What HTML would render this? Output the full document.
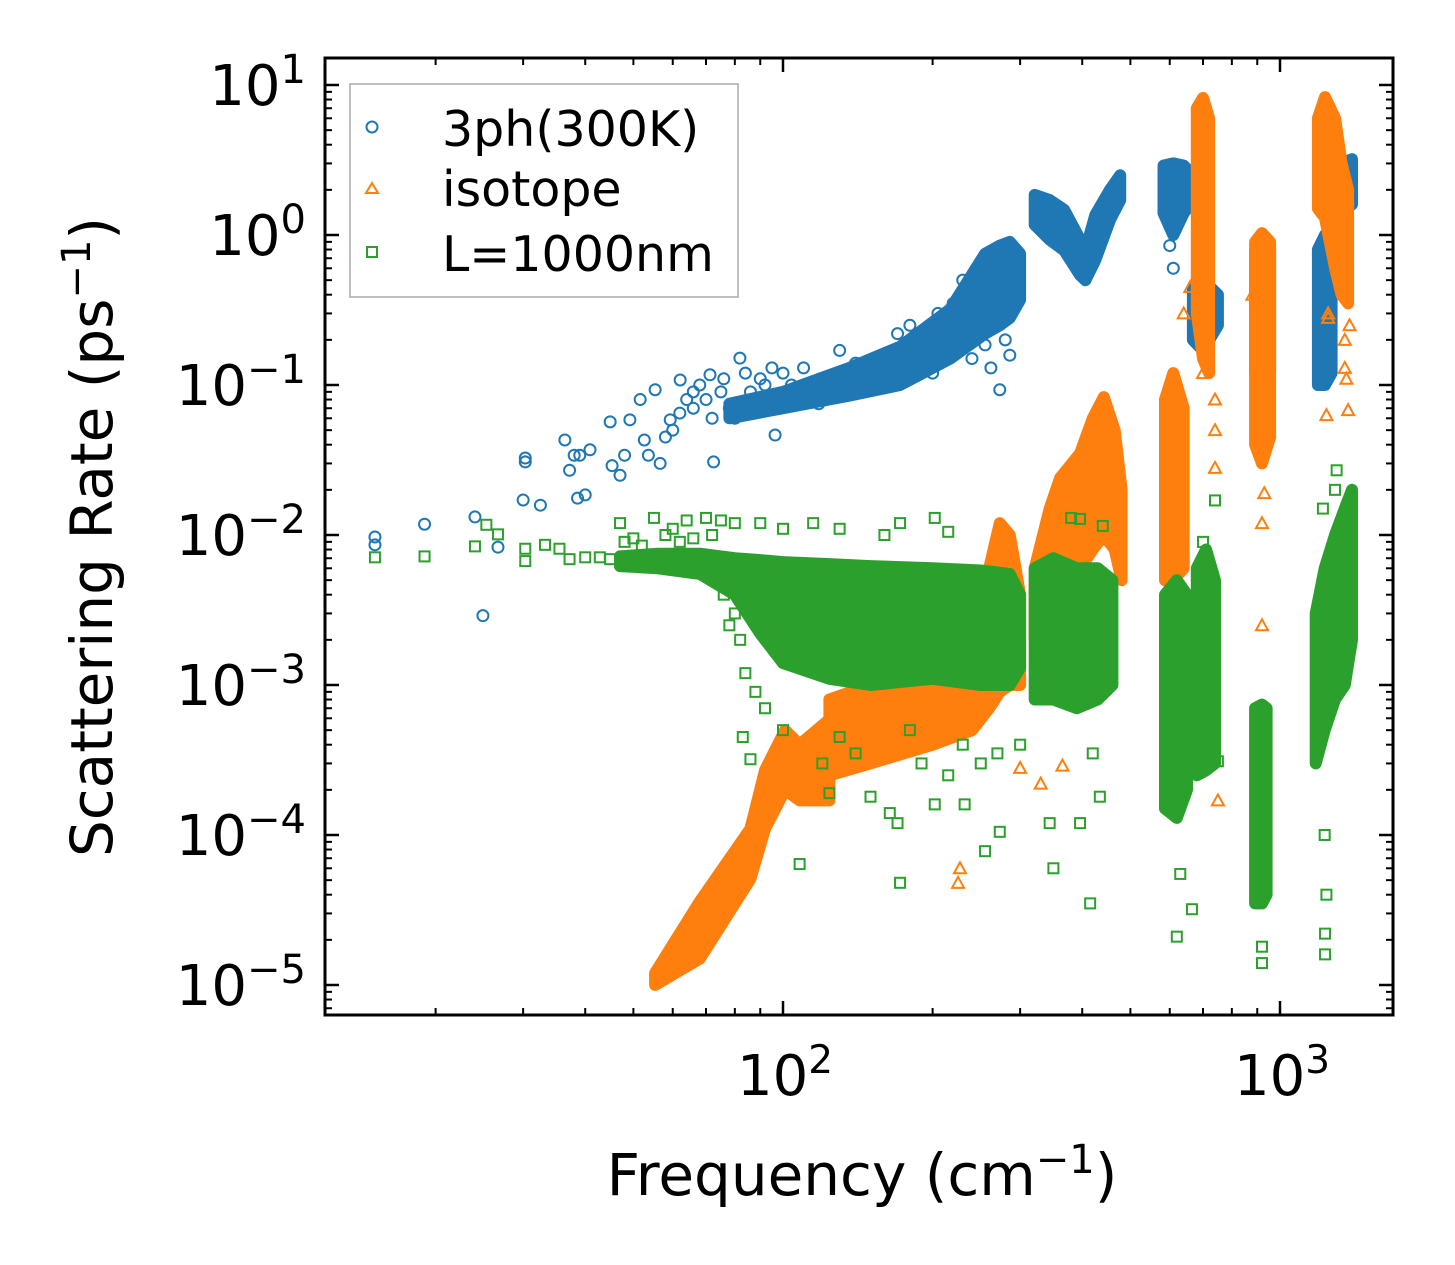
<!DOCTYPE html>
<html><head><meta charset="utf-8"><style>
html,body{margin:0;padding:0;background:#fff}
svg{display:block;font-family:"DejaVu Sans","Liberation Sans",sans-serif}
</style></head><body>
<svg id="chart" width="1455" height="1265" viewBox="0 0 1455 1265" xmlns="http://www.w3.org/2000/svg">
<rect width="1455" height="1265" fill="#fff"/>
<g id="marks"></g>
<g id="axes"></g>
<g>
<rect x="350" y="84" width="388" height="213" fill="#fff" fill-opacity="0.85" stroke="#aaa" stroke-width="1.5"/>
<circle cx="372" cy="127" r="5.5" fill="none" stroke="#1f77b4" stroke-width="2"/>
<text x="442" y="146" font-size="49">3ph(300K)</text>
<polygon points="372,183 378,193 366,193" fill="none" stroke="#ff7f0e" stroke-width="2"/>
<text x="442" y="206" font-size="49">isotope</text>
<rect x="367" y="247" width="10" height="10" fill="none" stroke="#2ca02c" stroke-width="2"/>
<text x="442" y="271" font-size="49">L=1000nm</text>
</g>
<text x="862" y="1195" font-size="58" text-anchor="middle">Frequency (cm<tspan dy="-22" font-size="40">−1</tspan><tspan dy="22">)</tspan></text>
<text transform="translate(112,537) rotate(-90)" font-size="58" text-anchor="middle">Scattering Rate (ps<tspan dy="-22" font-size="40">−1</tspan><tspan dy="22">)</tspan></text>
</svg>
<script>
// ---- data ----
const blueScatter = [[15.1,0.0097],[15.1,0.0086],[19.0,0.0118],[24.0,0.0132],[26.7,0.0083],[24.9,0.0029],[30.3,0.0326],[30.3,0.0307],[30.0,0.0171],[32.5,0.0158],[36.4,0.043],[37.2,0.027],[38,0.034],[39,0.034],[38.6,0.0176],[40,0.0185],[40.9,0.037],[44.9,0.0568],[45.3,0.029],[47,0.025],[48,0.034],[49.2,0.0586],[51.6,0.08],[52.6,0.043],[53.6,0.034],[55.3,0.093],[56.6,0.03],[59.3,0.0586],[62.1,0.108],[64,0.08],[71.3,0.117],[72.5,0.0307],[81.9,0.151],[96.4,0.0464],[273,0.093],[255,0.185],[286,0.158],[60,0.05],[66,0.07],[75,0.09],[80,0.06],[90,0.11],[100,0.12],[115,0.09],[130,0.17],[160,0.12],[180,0.25],[200,0.12],[205,0.3],[230,0.5],[240,0.15],[262,0.13],[280,0.2],[330,1.75],[340,1.6],[610,0.6],[600,0.85],[58,0.045],[62,0.065],[66,0.09],[68,0.1],[70,0.08],[72,0.06],[76,0.11],[78,0.07],[84,0.12],[86,0.09],[88,0.07],[92,0.1],[95,0.13],[98,0.085],[104,0.1],[110,0.13],[118,0.075],[125,0.11],[140,0.14],[150,0.1],[170,0.22],[190,0.17],[210,0.2],[220,0.35],[250,0.25],[265,0.3]];
const blueBandF = [[78,100,136,172,217,255,273,286,300],[321,344,368,396,406,425,455,477],[583,610,640,668],[668,700,750],[891,955],[1192,1232,1270],[1330,1396]];
const blueBandLo = [[0.06,0.07,0.085,0.1,0.15,0.22,0.25,0.28,0.37],[1.17,0.93,0.79,0.54,0.5,0.68,1.26,1.71],[1.4,1.0,1.4,1.7],[0.2,0.17,0.25],[0.12,0.12],[0.1,0.1,0.12],[1.4,1.6]];
const blueBandHi = [[0.075,0.09,0.13,0.18,0.32,0.75,0.85,0.9,0.75],[1.85,1.71,1.47,0.93,0.79,1.36,2.0,2.5],[2.9,3.0,2.9,2.5],[0.45,0.5,0.4],[0.8,0.8],[0.8,1.0,0.9],[3.0,3.2]];

const orangeScatter = [[227,6e-5],[225,4.8e-5],[300,2.8e-4],[330,2.2e-4],[365,2.9e-4],[920,2.5e-3],[750,1.7e-4],[740,0.028],[930,0.019],[1240,0.063],[1371,0.068],[1360,0.11],[1250,0.28],[1350,0.2],[1350,0.13],[740,0.05],[740,0.08],[700,0.12],[880,0.4],[640,0.3],[1250,0.3],[660,0.45],[920,0.012],[1380,0.25]];
const orangeBandF = [[55.3,68,86,92,101,108,124],[124,150,200,240,260,273,286,300],[321,344,361,396,420,442,465,480],[587,610,640],[680,700,720],[891,920,955],[1192,1232,1291,1330,1371]];
const orangeBandLo = [[1e-5,1.5e-5,5.1e-5,1.1e-4,2.0e-4,1.7e-4,1.7e-4],[2.5e-4,3e-4,4e-4,5e-4,7e-4,9e-4,1e-3,1e-3],[2e-3,3e-3,4e-3,6e-3,8e-3,0.01,0.008,0.005],[0.005,0.005,0.006],[0.3,0.15,0.12],[0.04,0.03,0.045],[1.5,1.3,0.6,0.4,0.35]];
const orangeBandHi = [[1.2e-5,3.6e-5,1.1e-4,2.7e-4,5.0e-4,4.0e-4,5.9e-4],[8e-4,1e-3,1.5e-3,3e-3,6e-3,0.012,0.01,0.004],[0.006,0.015,0.024,0.035,0.06,0.083,0.05,0.02],[0.08,0.12,0.07],[7,8.2,6],[0.9,1.03,0.9],[6,8.3,6,3,2]];

const greenScatter = [[15.1,0.0071],[19.0,0.0072],[24,0.0084],[25.3,0.0117],[26.7,0.0101],[30.3,0.0081],[30.3,0.0067],[33.2,0.0086],[35.5,0.0081],[37.2,0.0069],[40,0.0071],[42.8,0.0071],[44.9,0.0069],[47,0.012],[50,0.0095],[55,0.013],[60,0.011],[64,0.0125],[70,0.013],[75,0.0125],[80,0.012],[90,0.012],[100,0.011],[115,0.012],[130,0.011],[160,0.01],[172,0.012],[202,0.013],[215,0.0105],[86,3.2e-4],[83,4.5e-4],[100,5e-4],[124,1.9e-4],[108,6.4e-5],[150,1.8e-4],[164,1.4e-4],[172,4.8e-5],[170,1.2e-4],[202,1.6e-4],[232,1.6e-4],[255,7.8e-5],[273,1.05e-4],[120,3e-4],[140,3.5e-4],[190,3e-4],[215,2.5e-4],[250,3e-4],[300,4e-4],[350,6e-5],[344,1.2e-4],[396,1.2e-4],[415,3.5e-5],[434,1.8e-4],[420,3.5e-4],[630,5.5e-5],[620,2.1e-5],[665,3.2e-5],[920,1.4e-5],[920,1.8e-5],[1232,1.6e-5],[1232,2.2e-5],[1240,4e-5],[1230,1e-4],[1300,0.027],[1290,0.02],[1371,0.005],[740,0.017],[750,3.1e-4],[440,0.0115],[396,0.0128],[380,0.013],[700,0.009],[1220,0.015],[130,4.5e-4],[180,5e-4],[230,4e-4],[270,3.5e-4],[48,0.009],[52,0.0085],[58,0.01],[62,0.009],[66,0.0095],[72,0.01],[76,0.004],[80,0.003],[82,0.002],[78,0.0025],[84,0.0012],[88,0.0009],[92,0.0007]];
const greenBandF = [[47,56,68,80,90,100,124,150,200,250,286,300],[321,350,390,430,460],[587,620,650],[680,710,740],[891,920,940],[1180,1230,1290,1350,1396]];
const greenBandLo = [[0.0062,0.006,0.0055,0.004,0.0022,0.0014,0.0011,0.001,0.0011,0.001,0.001,0.0013],[8e-4,8e-4,7e-4,8e-4,1e-3],[1.5e-4,1.3e-4,2e-4],[2.5e-4,2.7e-4,3e-4],[3.5e-5,3.5e-5,4e-5],[3e-4,5e-4,8e-4,1e-3,2e-3]];
const greenBandHi = [[0.0072,0.0075,0.0075,0.007,0.0068,0.0066,0.0064,0.0062,0.006,0.0058,0.0055,0.004],[0.006,0.007,0.006,0.006,0.005],[0.004,0.005,0.004],[0.006,0.008,0.005],[7e-4,7.4e-4,7e-4],[0.003,0.006,0.01,0.015,0.02]];

const xMajorTicks = [100,1000];
const xMajorLabels = ["2","3"];
const yMajorTicks = [1e1,1e0,1e-1,1e-2,1e-3,1e-4,1e-5];
const yMajorLabels = ["1","0","−1","−2","−3","−4","−5"];

// ---- axes ----
const L=325,R=1393,T=58,B=1015;
const X=f=>783+(Math.log10(f)-2)*497;
const Y=r=>235-Math.log10(r)*150;
const NS="http://www.w3.org/2000/svg";
const marks=document.getElementById('marks');
const axes=document.getElementById('axes');
function mk(tag,attrs,parent){const e=document.createElementNS(NS,tag);for(const k in attrs)e.setAttribute(k,attrs[k]);parent.appendChild(e);return e;}

function band(F,Lo,Hi,color,name){
  for(let s=0;s<F.length;s++){
    const pts=[];
    for(let i=0;i<F[s].length;i++)pts.push(X(F[s][i]).toFixed(1)+','+Y(Hi[s][i]).toFixed(1));
    for(let i=F[s].length-1;i>=0;i--)pts.push(X(F[s][i]).toFixed(1)+','+Y(Lo[s][i]).toFixed(1));
    const p=mk('polygon',{points:pts.join(' '),fill:color,stroke:color,'stroke-width':12,'stroke-linejoin':'round'},marks);
    
    
  }
}
function scatter(D,color,shape,name){
  D.forEach(d=>{
    const x=X(d[0]),y=Y(d[1]);let e;
    if(shape==='c')e=mk('circle',{cx:x,cy:y,r:5.5,fill:'none',stroke:color,'stroke-width':2},marks);
    else if(shape==='t')e=mk('polygon',{points:`${x},${y-6} ${x+6},${y+5} ${x-6},${y+5}`,fill:'none',stroke:color,'stroke-width':2},marks);
    else e=mk('rect',{x:x-5,y:y-5,width:10,height:10,fill:'none',stroke:color,'stroke-width':2},marks);
    
    
  });
}
const clip=mk('clipPath',{id:'pc'},document.getElementById('chart'));
mk('rect',{x:L,y:T,width:R-L,height:B-T},clip);
marks.setAttribute('clip-path','url(#pc)');

band(blueBandF,blueBandLo,blueBandHi,'#1f77b4','3ph');
scatter(blueScatter,'#1f77b4','c','3ph');
band(orangeBandF,orangeBandLo,orangeBandHi,'#ff7f0e','isotope');
scatter(orangeScatter,'#ff7f0e','t','isotope');
band(greenBandF,greenBandLo,greenBandHi,'#2ca02c','boundary');
scatter(greenScatter,'#2ca02c','s','boundary');

const fr=mk('rect',{x:L,y:T,width:R-L,height:B-T,fill:'none',stroke:'#000','stroke-width':3},axes);


for(let dec=1;dec<=3;dec++){
  for(let m=1;m<10;m++){
    const f=m*Math.pow(10,dec);const x=X(f);
    if(x<L||x>R)continue;
    const len=m===1?14:7,w=m===1?2.5:2;
    mk('line',{x1:x,y1:B,x2:x,y2:B-len,stroke:'#000','stroke-width':w},axes);
    mk('line',{x1:x,y1:T,x2:x,y2:T+len,stroke:'#000','stroke-width':w},axes);
  }
}
xMajorTicks.forEach((f,i)=>{
  const t=mk('text',{x:X(f)+2,y:1095,'font-size':56,'text-anchor':'middle'},axes);
  
  
  t.innerHTML='10<tspan dy="-22" font-size="39">'+xMajorLabels[i]+'</tspan>';
});
for(let dec=-6;dec<=1;dec++){
  for(let m=1;m<10;m++){
    const r=m*Math.pow(10,dec);const y=Y(r);
    if(y<T||y>B)continue;
    const len=m===1?14:7,w=m===1?2.5:2;
    mk('line',{x1:L,y1:y,x2:L+len,y2:y,stroke:'#000','stroke-width':w},axes);
    mk('line',{x1:R,y1:y,x2:R-len,y2:y,stroke:'#000','stroke-width':w},axes);
  }
}
yMajorTicks.forEach((r,i)=>{
  const t=mk('text',{x:306,y:Y(r)+20,'font-size':56,'text-anchor':'end'},axes);
  
  
  t.innerHTML='10<tspan dy="-22" font-size="40">'+yMajorLabels[i]+'</tspan>';
});
</script>
</body></html>
